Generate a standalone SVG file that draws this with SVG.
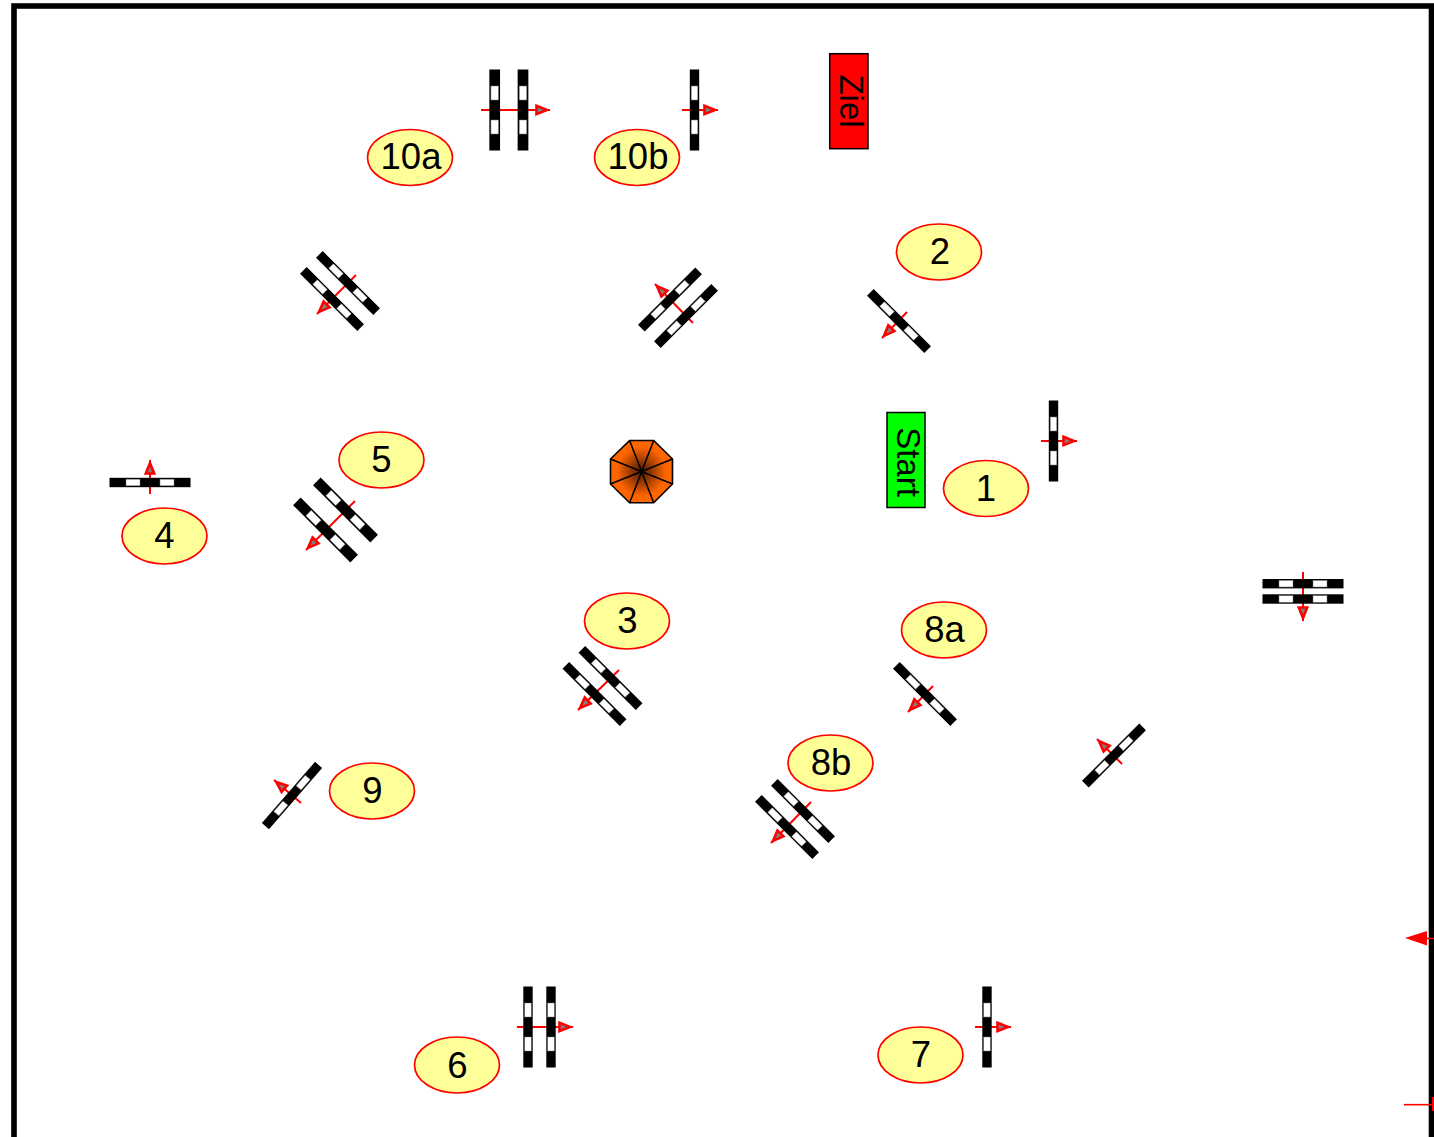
<svg xmlns="http://www.w3.org/2000/svg" width="1434" height="1137" viewBox="0 0 1434 1137">
<style>
text{font-family:"Liberation Sans",Arial,sans-serif;fill:#000;text-anchor:middle}
.n{font-size:36.500px}
.b{font-size:33px}
.e{fill:#ffff99;stroke:#ff0000;stroke-width:1.7}
.a{stroke:#ff0000;stroke-width:2;fill:none;marker-end:url(#ah)}
.o{stroke:#000;stroke-width:1.6}
</style>
<defs>
<marker id="ah" markerUnits="userSpaceOnUse" markerWidth="20" markerHeight="16" viewBox="0 0 20 16" refX="16" refY="8" orient="auto">
<path d="M2.500 3.800 L13 8 L2.500 12.200 Z" fill="#808080" stroke="#ff0000" stroke-width="2.600"/>
</marker>
<g id="bar">
<rect x="-4.700" y="-40.500" width="9.400" height="81" fill="#000"/>
<rect x="-3.300" y="-24" width="6.600" height="14" fill="#fff" stroke="#777" stroke-width="0.500"/>
<rect x="-3.300" y="10" width="6.600" height="14" fill="#fff" stroke="#777" stroke-width="0.500"/>
</g>
<radialGradient id="og" gradientUnits="userSpaceOnUse" cx="641.300" cy="471.500" r="31">
<stop offset="0" stop-color="#4a1800"/>
<stop offset="0.8" stop-color="#ff6600"/>
<stop offset="1" stop-color="#ff6600"/>
</radialGradient>
</defs>
<rect id="frame" x="14" y="6" width="1417.500" height="1200" fill="#fff" stroke="#000" stroke-width="5.600"/>
<g id="connectors">
<line class="a" x1="481" y1="110" x2="550" y2="110"/>
<line class="a" x1="682" y1="110" x2="718" y2="110"/>
<line class="a" x1="1041" y1="441" x2="1077" y2="441"/>
<line class="a" x1="517" y1="1027" x2="573" y2="1027"/>
<line class="a" x1="975" y1="1027" x2="1011" y2="1027"/>
<line class="a" x1="150" y1="494" x2="150" y2="460"/>
<line class="a" x1="1303" y1="572" x2="1303" y2="621"/>
<line class="a" x1="356" y1="275" x2="317" y2="314"/>
<line class="a" x1="693" y1="323" x2="655" y2="284"/>
<line class="a" x1="907" y1="312" x2="882" y2="338"/>
<line class="a" x1="355" y1="501" x2="306" y2="550"/>
<line class="a" x1="619" y1="670" x2="578" y2="710"/>
<line class="a" x1="933" y1="686" x2="908" y2="712"/>
<line class="a" x1="811" y1="802" x2="771" y2="843"/>
<line class="a" x1="1122" y1="764" x2="1097" y2="739"/>
<line class="a" x1="301" y1="803" x2="274" y2="780"/>
</g>
<g id="jump-10a"><use href="#bar" transform="translate(494.700 110) scale(1.140 1)"/><use href="#bar" transform="translate(523 110) scale(1.140 1)"/></g>
<g id="jump-10b"><use href="#bar" x="694.500" y="110"/></g>
<g id="jump-1"><use href="#bar" x="1053.500" y="441"/></g>
<g id="jump-6"><use href="#bar" x="528" y="1027"/><use href="#bar" x="551" y="1027"/></g>
<g id="jump-7"><use href="#bar" x="987" y="1027"/></g>
<g id="jump-4"><use href="#bar" transform="translate(150 482.500) rotate(90)"/></g>
<g id="jump-east"><use href="#bar" transform="translate(1303 583.700) rotate(90)"/><use href="#bar" transform="translate(1303 599) rotate(90)"/></g>
<g id="jump-nw"><use href="#bar" transform="translate(348 283) rotate(135)"/><use href="#bar" transform="translate(332 299) rotate(135)"/></g>
<g id="jump-n"><use href="#bar" transform="translate(670 299.500) rotate(225)"/><use href="#bar" transform="translate(686 316) rotate(225)"/></g>
<g id="jump-2"><use href="#bar" transform="translate(899 321) rotate(135)"/></g>
<g id="jump-5"><use href="#bar" transform="translate(345.500 510) rotate(135) scale(1.140 1)"/><use href="#bar" transform="translate(325.500 530) rotate(135) scale(1.140 1)"/></g>
<g id="jump-3"><use href="#bar" transform="translate(610.500 678) rotate(135)"/><use href="#bar" transform="translate(594.500 694) rotate(135)"/></g>
<g id="jump-8a"><use href="#bar" transform="translate(925 694) rotate(135)"/></g>
<g id="jump-8b"><use href="#bar" transform="translate(803 811) rotate(135)"/><use href="#bar" transform="translate(787 827) rotate(135)"/></g>
<g id="jump-se"><use href="#bar" transform="translate(1114 755.500) rotate(225)"/></g>
<g id="jump-9"><use href="#bar" transform="translate(292 795.500) rotate(221)"/></g>
<g id="tree">
<polygon points="629.600,440.500 653.700,440.500 672.500,459 672.500,484 653.700,502.700 629.600,502.700 610.500,484 610.500,459" fill="url(#og)" class="o"/>
<path class="o" fill="none" d="M629.600 440.500L653.700 502.700M653.700 440.500L629.600 502.700M672.500 459L610.500 484M672.500 484L610.500 459"/>
</g>
<g id="ziel"><rect x="829.700" y="53.700" width="38.300" height="95" fill="#ff0000" stroke="#000" stroke-width="1.500"/><text class="b" transform="translate(840 101) rotate(90)">Ziel</text></g>
<g id="start"><rect x="887" y="412.500" width="38" height="95" fill="#00ff00" stroke="#000" stroke-width="1.500"/><text class="b" transform="translate(897 462) rotate(90)">Start</text></g>
<g id="l10a"><ellipse class="e" cx="410" cy="157.500" rx="42.500" ry="28"/><text class="n" x="411" y="169">10a</text></g>
<g id="l10b"><ellipse class="e" cx="637" cy="157.500" rx="42.500" ry="28"/><text class="n" x="638" y="169">10b</text></g>
<g id="l2"><ellipse class="e" cx="939" cy="252" rx="42.500" ry="28"/><text class="n" x="940" y="264">2</text></g>
<g id="l5"><ellipse class="e" cx="381.500" cy="460" rx="42.500" ry="28"/><text class="n" x="381.500" y="472">5</text></g>
<g id="l1"><ellipse class="e" cx="986" cy="488.500" rx="42.500" ry="28"/><text class="n" x="986" y="501">1</text></g>
<g id="l4"><ellipse class="e" cx="164.500" cy="536" rx="42.500" ry="28"/><text class="n" x="164.500" y="548">4</text></g>
<g id="l3"><ellipse class="e" cx="627" cy="621" rx="42.500" ry="28"/><text class="n" x="627.500" y="633">3</text></g>
<g id="l8a"><ellipse class="e" cx="944" cy="630" rx="42.500" ry="28"/><text class="n" x="944.500" y="642">8a</text></g>
<g id="l8b"><ellipse class="e" cx="830.500" cy="763" rx="42.500" ry="28"/><text class="n" x="831" y="775">8b</text></g>
<g id="l9"><ellipse class="e" cx="372" cy="791" rx="42.500" ry="28"/><text class="n" x="372.500" y="803">9</text></g>
<g id="l6"><ellipse class="e" cx="457" cy="1065" rx="42.500" ry="28"/><text class="n" x="457.500" y="1078">6</text></g>
<g id="l7"><ellipse class="e" cx="920.500" cy="1055" rx="42.500" ry="28"/><text class="n" x="921" y="1067">7</text></g>
<g id="edge-arrows">
<path d="M1427 931L1405 938L1427 945.500Z" fill="#ff0000"/>
<line x1="1427" y1="938.500" x2="1434" y2="938.500" stroke="#ff0000" stroke-width="1.600"/>
<line x1="1404" y1="1104.700" x2="1434" y2="1104.700" stroke="#ff0000" stroke-width="1.600"/>
<rect x="1432" y="1097" width="2" height="14" fill="#ff0000"/>
</g>
</svg>
